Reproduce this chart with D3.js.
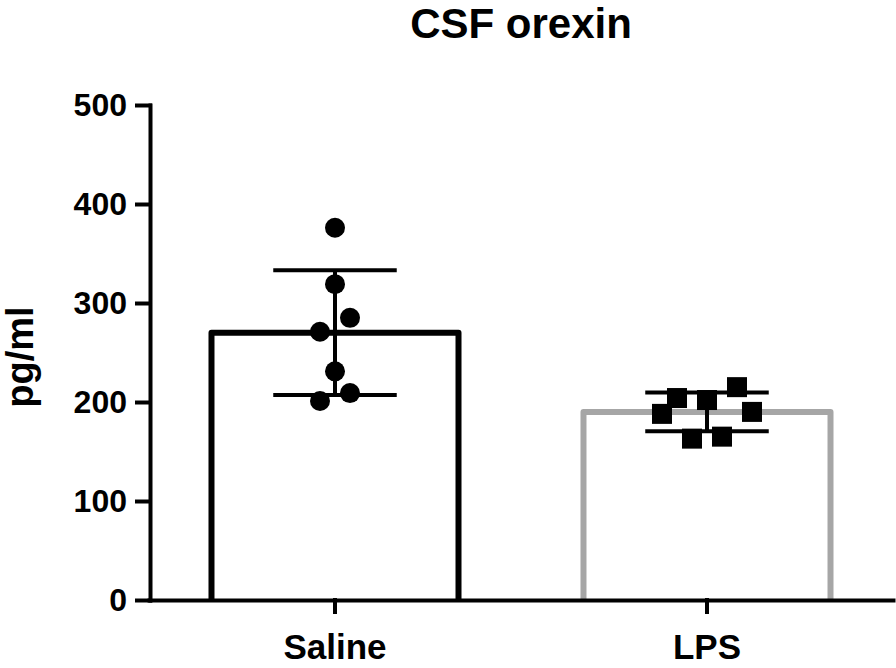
<!DOCTYPE html>
<html>
<head>
	<meta charset="utf-8">
	<script src="https://d3js.org/d3.v7.min.js"></script>
	<title>CSF orexin</title>
	<style type="text/css">
		body {
			margin: 0;
			background: #fff;
		}
		text {
			font-family: "Liberation Sans", Arial, sans-serif;
			font-weight: bold;
		}
	</style>
</head>
<body>
	<div id="chartContainer"></div>

	<script type="text/javascript">
		// values (pg/ml)
		var groups = ["Saline", "LPS"];
		var salineValues = [376, 319, 285, 271, 231, 209, 201];
		var lpsValues = [215, 204, 202, 190, 188, 165, 163];
		var means = [270, 190];
		var sds = [63, 19.5];
		var yTicks = [0, 100, 200, 300, 400, 500];
		var barColors = ["#000000", "#a6a6a6"];

		var width = 896, height = 668;
		var svg = d3.select("#chartContainer").append("svg")
			.attr("width", width)
			.attr("height", height);

		var x = d3.scaleBand()
			.domain(groups)
			.range([149, 893])
			.paddingInner(0.336)
			.paddingOuter(0.168);

		var y = d3.scaleLinear()
			.domain([0, 500])
			.range([600, 105]);

		// bars: open rectangles sitting on the axis
		groups.forEach(function (g, i) {
			var x0 = x(g), x1 = x(g) + x.bandwidth();
			svg.append("path")
				.attr("d", "M" + x0 + "," + y(0) + "V" + y(means[i]) + "H" + x1 + "V" + y(0))
				.attr("fill", "none")
				.attr("stroke", barColors[i])
				.attr("stroke-width", 6)
				.attr("stroke-linejoin", "round");
		});

		// scatter points, spread sideways within value bins (Prism style)
		var symbolSize = 20;
		function spread(values, binWidth, step) {
			var bins = Array.from(d3.group(values, function (v) { return Math.floor((v - 200) / binWidth); }))
				.sort(function (a, b) { return b[0] - a[0]; });
			var out = [];
			var prevLow = null;
			bins.forEach(function (bin) {
				var sorted = bin[1].slice().sort(d3.descending);
				var n = sorted.length;
				var slots = d3.range(n).map(function (k) { return (k - (n - 1) / 2) * step; });
				// row sits right under the previous one: push it outward
				if (prevLow !== null && y(sorted[0]) - y(prevLow) < symbolSize && n > 1) {
					slots = slots.map(function (s) { return s + Math.sign(s) * step; });
				}
				// highest value to rightmost slot, next to leftmost, and so on
				var order = [];
				var lo = 0, hi = n - 1;
				while (lo <= hi) {
					order.push(slots[hi--]);
					if (lo <= hi) order.push(slots[lo++]);
				}
				sorted.forEach(function (v, k) { out.push({ v: v, dx: order[k] }); });
				prevLow = sorted[n - 1];
			});
			return out;
		}

		var salinePts = spread(salineValues, 30, 30);
		var lpsPts = spread(lpsValues, 30, 30);
		var cx0 = x("Saline") + x.bandwidth() / 2;
		var cx1 = x("LPS") + x.bandwidth() / 2;

		// error bars (mean +/- SD)
		groups.forEach(function (g, i) {
			var cx = x(g) + x.bandwidth() / 2;
			var hw = x.bandwidth() * 0.25;
			var eb = svg.append("g")
				.attr("stroke", "#000")
				.attr("stroke-width", 4);
			eb.append("line")
				.attr("x1", cx).attr("x2", cx)
				.attr("y1", y(means[i] + sds[i])).attr("y2", y(means[i] - sds[i]));
			[means[i] + sds[i], means[i] - sds[i]].forEach(function (v) {
				eb.append("line")
					.attr("x1", cx - hw).attr("x2", cx + hw)
					.attr("y1", y(v)).attr("y2", y(v));
			});
		});

		svg.append("g").selectAll("circle")
			.data(salinePts)
			.enter().append("circle")
			.attr("cx", function (d) { return cx0 + d.dx; })
			.attr("cy", function (d) { return y(d.v); })
			.attr("r", symbolSize / 2)
			.attr("fill", "#000");

		svg.append("g").selectAll("rect")
			.data(lpsPts)
			.enter().append("rect")
			.attr("x", function (d) { return cx1 + d.dx - symbolSize / 2; })
			.attr("y", function (d) { return y(d.v) - symbolSize / 2; })
			.attr("width", symbolSize)
			.attr("height", symbolSize)
			.attr("fill", "#000");

		// axes
		var yAxis = svg.append("g")
			.attr("transform", "translate(150,0)")
			.call(d3.axisLeft(y).tickValues(yTicks).tickSize(13).tickSizeOuter(0).tickPadding(10));
		var xAxis = svg.append("g")
			.attr("transform", "translate(0," + y(0) + ")")
			.call(d3.axisBottom(x).tickSize(12).tickSizeOuter(0).tickPadding(22));

		[yAxis, xAxis].forEach(function (ax) {
			ax.attr("font-family", null).attr("font-size", null);
			ax.selectAll("path, line")
				.attr("stroke", "#000")
				.attr("stroke-width", 4)
				.attr("stroke-linecap", "square");
			ax.selectAll("text").attr("fill", "#000");
		});
		yAxis.selectAll("text").style("font-size", "32px");
		xAxis.selectAll("text").style("font-size", "35px");

		// titles
		svg.append("text")
			.attr("x", 521)
			.attr("y", 38)
			.attr("text-anchor", "middle")
			.style("font-size", "42px")
			.text("CSF orexin");

		svg.append("text")
			.attr("transform", "translate(33,357) rotate(-90)")
			.attr("text-anchor", "middle")
			.style("font-size", "38px")
			.text("pg/ml");
	</script>
</body>
</html>
